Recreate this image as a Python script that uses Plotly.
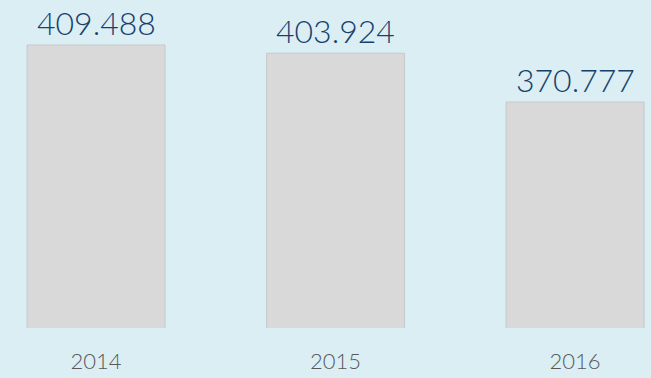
import plotly.graph_objects as go

years = ["2014", "2015", "2016"]
values = [409.488, 403.924, 370.777]
value_labels = ["409.488", "403.924", "370.777"]

BG = "#DAEEF3"
BAR = "#D9D9D9"
NAVY = "#17406D"
GREY = "#595959"
FONT = "Lato"

fig = go.Figure()
fig.add_trace(go.Bar(
    x=years,
    y=values,
    width=0.576,
    marker=dict(color=BAR, line=dict(color="#C6CACB", width=1)),
    hoverinfo="skip",
))

# value labels above each bar (category index used for x)
for i, (v, lab) in enumerate(zip(values, value_labels)):
    fig.add_annotation(
        x=i, y=v, text=lab, showarrow=False,
        xanchor="center", yanchor="bottom", yshift=1,
        font=dict(family=FONT, size=32, weight=300, color=NAVY),
    )

fig.update_layout(
    width=651, height=378,
    margin=dict(l=0, r=0, t=0, b=50),
    paper_bgcolor=BG, plot_bgcolor=BG,
    showlegend=False,
    xaxis=dict(
        type="category", range=[-0.401, 2.317],
        showgrid=False, zeroline=False, showline=False,
        ticks="", ticklabelstandoff=18,
        tickfont=dict(family=FONT, size=22, weight=300, color=GREY),
    ),
    yaxis=dict(
        range=[217.3, 440.05], visible=False,
        showgrid=False, zeroline=False,
    ),
)

fig.write_html("out.html")
